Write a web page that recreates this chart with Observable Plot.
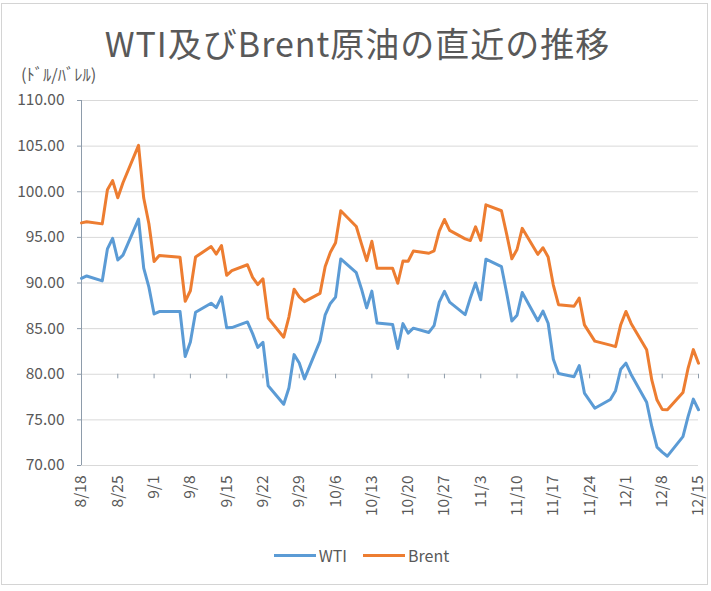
<!DOCTYPE html>
<html><head><meta charset="utf-8">
<script src="https://cdn.jsdelivr.net/npm/d3@7"></script>
<script src="https://cdn.jsdelivr.net/npm/@observablehq/plot@0.6"></script>
<style>
html,body{margin:0;padding:0;background:#fff;}
#wrap{position:relative;width:711px;height:591px;overflow:hidden;font-family:"Noto Sans CJK JP","Noto Sans",sans-serif;color:#595959;}
#frame{position:absolute;left:1px;top:3px;width:707px;height:582px;border:1px solid #d4d4d4;box-sizing:border-box;}
#title{position:absolute;left:0;top:0;width:711px;height:88px;}
#title .t{position:absolute;left:4px;right:0;top:26px;text-align:center;font-size:34px;letter-spacing:1px;line-height:1;white-space:nowrap;}
#title .u{position:absolute;left:21px;top:66px;font-size:16.5px;line-height:1;}
#chart{position:absolute;left:0;top:88px;}
#legend{position:absolute;left:6px;top:543px;width:711px;height:24px;display:flex;justify-content:center;align-items:center;font-size:16px;gap:16px;}
#legend .item{display:flex;align-items:center;gap:3px;}
#legend .sw{display:inline-block;width:42px;height:3px;}
</style>
</head><body>
<div id="wrap">
  <div id="frame"></div>
  <div id="title"><div class="t">WTI及びBrent原油の直近の推移</div><div class="u" id="unit"></div></div>
  <div id="chart"></div>
  <div id="legend"></div>
</div>
<script>
// ---- data ----
const days = [
  "2022-08-18","2022-08-19",
  "2022-08-22","2022-08-23","2022-08-24","2022-08-25","2022-08-26",
  "2022-08-29","2022-08-30","2022-08-31","2022-09-01","2022-09-02",
  "2022-09-06","2022-09-07","2022-09-08","2022-09-09",
  "2022-09-12","2022-09-13","2022-09-14","2022-09-15","2022-09-16",
  "2022-09-19","2022-09-20","2022-09-21","2022-09-22","2022-09-23",
  "2022-09-26","2022-09-27","2022-09-28","2022-09-29","2022-09-30",
  "2022-10-03","2022-10-04","2022-10-05","2022-10-06","2022-10-07",
  "2022-10-10","2022-10-11","2022-10-12","2022-10-13","2022-10-14",
  "2022-10-17","2022-10-18","2022-10-19","2022-10-20","2022-10-21",
  "2022-10-24","2022-10-25","2022-10-26","2022-10-27","2022-10-28",
  "2022-10-31","2022-11-01","2022-11-02","2022-11-03","2022-11-04",
  "2022-11-07","2022-11-08","2022-11-09","2022-11-10","2022-11-11",
  "2022-11-14","2022-11-15","2022-11-16","2022-11-17","2022-11-18",
  "2022-11-21","2022-11-22","2022-11-23","2022-11-25",
  "2022-11-28","2022-11-29","2022-11-30","2022-12-01","2022-12-02",
  "2022-12-05","2022-12-06","2022-12-07","2022-12-08","2022-12-09",
  "2022-12-12","2022-12-13","2022-12-14","2022-12-15"
];
const wti = [
  90.50, 90.77,
  90.23, 93.74, 94.89, 92.52, 93.06,
  97.01, 91.64, 89.55, 86.61, 86.87,
  86.88, 81.94, 83.54, 86.79,
  87.78, 87.31, 88.48, 85.10, 85.11,
  85.73, 84.45, 82.94, 83.49, 78.74,
  76.71, 78.50, 82.15, 81.23, 79.49,
  83.63, 86.52, 87.76, 88.45, 92.64,
  91.13, 89.35, 87.27, 89.11, 85.61,
  85.46, 82.82, 85.55, 84.51, 85.05,
  84.58, 85.32, 87.91, 89.08, 87.90,
  86.53, 88.37, 90.00, 88.17, 92.61,
  91.79, 88.91, 85.83, 86.47, 88.96,
  85.87, 86.92, 85.59, 81.64, 80.08,
  79.73, 80.95, 77.94, 76.28,
  77.24, 78.20, 80.55, 81.22, 79.98,
  76.93, 74.25, 72.01, 71.46, 71.02,
  73.17, 75.39, 77.28, 76.11
];
const brent = [
  96.59, 96.72,
  96.48, 100.22, 101.22, 99.34, 100.99,
  105.09, 99.31, 96.49, 92.36, 93.02,
  92.83, 88.00, 89.15, 92.84,
  94.00, 93.17, 94.10, 90.84, 91.35,
  92.00, 90.62, 89.83, 90.46, 86.15,
  84.06, 86.27, 89.32, 88.49, 87.96,
  88.86, 91.80, 93.37, 94.42, 97.92,
  96.19, 94.29, 92.45, 94.57, 91.63,
  91.62, 89.97, 92.41, 92.38, 93.50,
  93.26, 93.52, 95.69, 96.96, 95.77,
  94.83, 94.65, 96.16, 94.67, 98.57,
  97.92, 95.36, 92.65, 93.67, 95.99,
  93.14, 93.86, 92.86, 89.78, 87.62,
  87.45, 88.36, 85.41, 83.63,
  83.19, 83.03, 85.43, 86.88, 85.57,
  82.68, 79.35, 77.17, 76.15, 76.10,
  77.99, 80.68, 82.70, 81.21
];
const seriesNames = ["WTI", "Brent"];
const seriesColors = ["#5B9BD5", "#ED7D31"];
const tickLabels = ["8/18","8/25","9/1","9/8","9/15","9/22","9/29","10/6","10/13","10/20","10/27","11/3","11/10","11/17","11/24","12/1","12/8","12/15"];
const yTicks = [70, 75, 80, 85, 90, 95, 100, 105, 110];
const unitLabel = "(ﾄﾞﾙ/ﾊﾞﾚﾙ)";

// ---- build ----
document.getElementById("unit").textContent = unitLabel;
const parseDay = s => new Date(s + "T00:00:00Z");
const tickDates = tickLabels.map(l => { const [m, d] = l.split("/").map(Number); return new Date(Date.UTC(2022, m - 1, d)); });
const labelByTime = new Map(tickDates.map((d, i) => [d.getTime(), tickLabels[i]]));
const rows = [];
days.forEach((s, i) => rows.push({date: parseDay(s), value: wti[i], series: "WTI"}));
days.forEach((s, i) => rows.push({date: parseDay(s), value: brent[i], series: "Brent"}));

const axisColor = "#8e9cab";
const font = "'Noto Sans CJK JP','Noto Sans',sans-serif";
const chart = Plot.plot({
  width: 711, height: 430,
  marginLeft: 81, marginRight: 13, marginTop: 12, marginBottom: 53,
  style: {fontFamily: font, fontSize: "15.5px", color: "#595959", background: "transparent", overflow: "visible"},
  x: {type: "utc", domain: [tickDates[0], tickDates[tickDates.length - 1]], label: null},
  y: {domain: [70, 110], label: null},
  color: {domain: seriesNames, range: seriesColors},
  marks: [
    Plot.gridY(yTicks, {stroke: "#d9d9d9", strokeOpacity: 1, strokeWidth: 1}),
    Plot.ruleX([tickDates[0]], {stroke: axisColor, strokeWidth: 1}),
    Plot.ruleX(tickDates, {x: d => d, y1: 80, y2: 79.5, stroke: axisColor}),
    Plot.line(rows, {x: "date", y: "value", z: "series", stroke: "series", strokeWidth: 3, strokeLinejoin: "round"}),
    Plot.axisY({ticks: yTicks, tickFormat: d => d.toFixed(2), tickSize: 4, tickPadding: 13, stroke: axisColor, fill: "#595959"}),
    Plot.axisX({ticks: tickDates, tickFormat: d => labelByTime.get(d.getTime()), tickRotate: -90, tickSize: 0, tickPadding: 10, fill: "#595959"})
  ]
});
document.getElementById("chart").appendChild(chart);

const lg = document.getElementById("legend");
seriesNames.forEach((n, i) => {
  const it = document.createElement("div"); it.className = "item";
  const sw = document.createElement("span"); sw.className = "sw"; sw.style.background = seriesColors[i];
  const tx = document.createElement("span"); tx.textContent = n;
  it.appendChild(sw); it.appendChild(tx); lg.appendChild(it);
});
</script>
</body></html>
